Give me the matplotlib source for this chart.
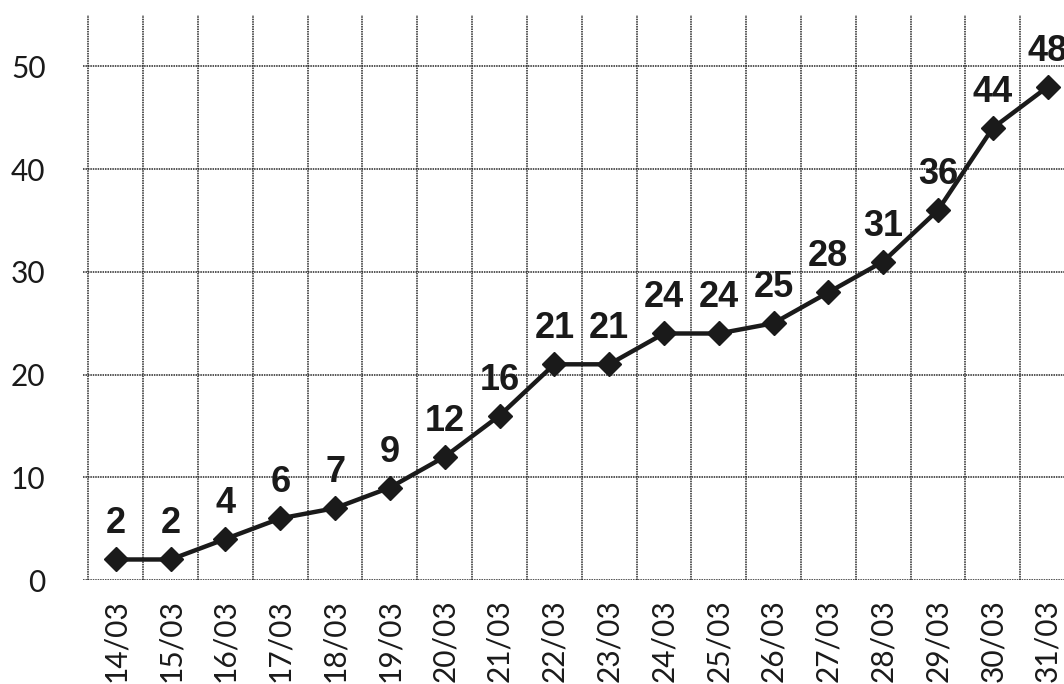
import matplotlib
matplotlib.use("Agg")
import matplotlib.pyplot as plt
import numpy as np

dates = ["14/03", "15/03", "16/03", "17/03", "18/03", "19/03", "20/03", "21/03", "22/03",
         "23/03", "24/03", "25/03", "26/03", "27/03", "28/03", "29/03", "30/03", "31/03"]
cases = [2, 2, 4, 6, 7, 9, 12, 16, 21, 21, 24, 24, 25, 28, 31, 36, 44, 48]
y_ticks = [0, 10, 20, 30, 40, 50]

fig = plt.figure(figsize=(10.64, 6.84), dpi=100)
ax = fig.add_axes([0.078, 0.152, 0.922, 0.826])

x = np.arange(len(dates))
ink = "#1a1a1a"
grid_kw = dict(color="#262626", linewidth=1.1, linestyle=(0, (1, 0.6)), zorder=1)
for yv in y_ticks:
    ax.axhline(yv, **grid_kw)
for xv in np.arange(-0.5, len(dates) + 0.5, 1.0):
    ax.axvline(xv, **grid_kw)

ax.plot(x, cases, color=ink, linewidth=3.2, marker="D", markersize=12,
        markerfacecolor=ink, markeredgecolor=ink, zorder=3)

for xi, v in zip(x, cases):
    ax.annotate(str(v), (xi, v), xytext=(0, 13), textcoords="offset points",
                ha="center", va="bottom", fontsize=26, fontweight="bold",
                family="Liberation Sans", color=ink, zorder=4)

ax.set_xlim(-0.6, 17.3)
ax.set_ylim(0, 55)
ax.set_xticks(x)
ax.set_xticklabels(dates, rotation=90, family="Lato", fontsize=21.5, color=ink)
ax.set_yticks(y_ticks)
ax.set_yticklabels([str(t) for t in y_ticks], family="Lato", fontsize=21.5, color=ink)
ax.tick_params(axis="both", length=0)
ax.tick_params(axis="y", pad=27)
ax.tick_params(axis="x", pad=14)
for s in ax.spines.values():
    s.set_visible(False)
ax.set_facecolor("white")

fig.savefig("out.png", dpi=100, facecolor="white")
